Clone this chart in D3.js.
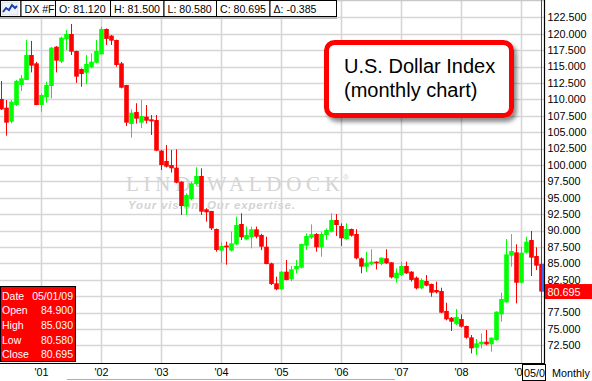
<!DOCTYPE html>
<html>
<head>
<meta charset="utf-8">
<script src="https://cdn.jsdelivr.net/npm/d3@7"></script>
<style>
  body { margin: 0; background: #fff; }
  svg { display: block; font-family: "Liberation Sans", Arial, sans-serif; }
</style>
</head>
<body>
<div id="chart"></div>
<script>
// monthly DX #F candles, May 2000 .. May 2009
var months = d3.timeMonth.range(new Date(2000, 4, 1), new Date(2009, 5, 1));

var opens = [110.05,108.72,106.59,109.13,112.18,112.94,116.75,115.48,
  109.13,110.3,112.03,118.02,115.74,119.14,119.95,117.36,114.62,114.06,114.87,115.58,
  116.85,120.72,119.7,119.04,115.48,112.18,106.23,108.06,106.44,107.35,106.95,106.84,
  102.17,100.6,99.98,99.58,97.44,93.63,94.8,97.09,98.31,93.23,92.97,90.23,
  86.93,87.7,86.93,87.89,90.99,88.65,88.96,90.18,89.32,87.53,84.99,81.95,
  81.03,83.72,82.56,84.08,84.33,87.69,88.91,89.47,87.43,89.32,89.82,91.6,
  90.69,88.7,90.23,89.47,85.76,84.49,84.84,85.25,84.9,85.76,85.15,82.71,
  83.22,84.59,83.73,82.81,81.18,82.3,81.84,80.93,80.77,77.73,76.71,75.74,
  76.5,75.44,73.71,72.14,72.65,73.05,72.65,73.3,77.22,79.05,86.16,86.67,
  82.04,86.62,88.55,86.11,84.9];
var highs = [112.79,109.89,109.89,112.94,113.7,119.04,118.9,115.7,
  110.9,112.7,118.0,118.1,119.55,120.56,121.48,117.4,114.7,116.75,117.0,119.04,
  121.07,120.8,119.8,119.1,115.7,112.2,108.47,109.4,109.9,109.13,107.6,107.6,
  102.3,103.03,102.27,102.37,97.5,95.67,97.44,99.63,99.48,93.4,93.0,90.3,
  88.2,88.3,89.82,92.11,92.62,90.6,90.6,90.6,89.5,89.06,85.1,82.96,
  83.8,85.5,84.59,85.5,88.0,89.57,90.94,89.6,89.82,90.3,92.62,92.52,
  91.09,91.09,90.3,90.2,85.9,86.77,87.13,85.3,85.9,87.13,85.2,84.23,
  85.25,85.25,83.8,83.0,82.7,83.21,81.9,82.2,81.28,78.99,76.8,78.03,
  77.22,75.5,74.07,73.46,74.32,74.83,73.7,77.7,80.52,88.7,89.46,87.89,
  87.53,89.06,89.92,87.43,85.03];
var lows = [108.37,104.46,106.34,108.98,111.27,112.94,114.1,109.1,
  108.1,109.5,110.15,114.1,115.5,117.5,116.75,112.5,111.9,112.3,114.7,115.5,
  116.85,118.3,118.28,114.97,111.67,105.93,104.15,106.3,105.6,106.3,104.56,102.1,
  99.22,99.6,98.82,97.2,92.36,92.36,94.6,96.9,92.36,91.35,90.08,86.77,
  85.0,84.8,86.8,87.8,88.55,88.5,87.28,88.8,87.0,84.85,81.69,80.9,
  80.9,82.4,82.3,83.47,84.2,87.03,88.7,86.77,86.0,88.55,89.7,89.16,
  87.64,88.6,89.06,85.6,83.47,83.7,84.7,84.08,84.7,84.9,82.7,82.05,
  83.07,83.37,82.2,81.03,81.03,81.5,79.91,80.4,77.4,76.3,74.68,75.6,
  75.2,73.5,71.27,71.02,72.04,72.5,71.53,73.2,76.1,79.0,84.48,78.89,
  81.9,86.5,83.06,83.97,80.58];
var closes = [108.47,106.44,109.64,112.79,113.2,116.75,115.13,109.13,
  110.66,112.18,117.87,115.89,119.4,119.95,117.26,113.45,113.86,115.38,115.74,117.36,
  120.72,119.2,118.94,115.23,111.77,106.44,107.96,107.05,107.45,106.74,106.64,102.17,
  99.98,99.73,99.48,97.29,93.73,95.41,97.19,98.31,92.87,92.77,90.33,87.03,
  87.64,87.43,88.04,90.84,88.96,89.32,90.18,89.06,87.53,84.89,81.84,81.03,
  83.72,82.46,84.08,84.59,87.94,89.16,89.42,87.43,89.47,90.08,91.6,90.84,
  88.81,90.23,89.21,85.76,84.49,85.1,85.25,85.0,85.86,85.0,82.86,83.57,
  84.59,83.47,82.46,81.18,82.45,81.59,80.52,80.57,77.47,76.46,76.1,76.81,
  75.34,73.66,72.04,72.8,73.05,72.65,73.66,77.62,79.56,86.36,86.87,82.04,
  86.62,88.3,85.86,84.64,80.695];

var yTicks = [72.5,75,77.5,80,82.5,85,87.5,90,92.5,95,97.5,100,102.5,105,107.5,110,112.5,115,117.5,120,122.5];
var headerFields = ['DX #F', 'O: 81.120', 'H: 81.500', 'L: 80.580', 'C: 80.695', '\u0394: -0.385'];
var infoLabels = ['Date', 'Open', 'High', 'Low', 'Close'];
var infoValues = ['05/01/09', '84.900', '85.030', '80.580', '80.695'];
var titleLines = ['U.S. Dollar Index', '(monthly chart)'];

var W = 592, H = 381;
var plotR = 544.5, plotB = 363.5;

var data = months.map((d, i) => ({date: d, o: opens[i], h: highs[i], l: lows[i], c: closes[i]}));

var svg = d3.select('#chart').append('svg')
  .attr('width', W).attr('height', H);

var defs = svg.append('defs');
defs.append('clipPath').attr('id', 'plotclip')
  .append('rect').attr('x', 0).attr('y', 0).attr('width', plotR).attr('height', plotB);
// in the axis group's own coordinates (already shifted down by plotB)
defs.append('clipPath').attr('id', 'axisclip')
  .append('rect').attr('x', 0).attr('y', 0).attr('width', 522).attr('height', 20);
var f = defs.append('filter').attr('id', 'shadow')
  .attr('x', '-10%').attr('y', '-10%').attr('width', '130%').attr('height', '140%');
f.append('feDropShadow').attr('dx', 3).attr('dy', 4).attr('stdDeviation', 2.2)
  .attr('flood-color', '#000').attr('flood-opacity', 0.45);

var x = d3.scaleBand().domain(months).range([-1, 544]).padding(0);
var y = d3.scaleLinear().domain([72.5, 122.5]).range([345.3, 17.3]);
var bw = x.bandwidth();
var cx = (d) => x(d) + bw / 2;

svg.append('rect').attr('width', W).attr('height', H).attr('fill', '#fff');

var plot = svg.append('g').attr('clip-path', 'url(#plotclip)');

// grid
plot.selectAll('line.hgrid')
  .data(yTicks)
  .enter().append('line')
  .attr('class', 'hgrid')
  .attr('x1', 0).attr('x2', plotR)
  .attr('y1', (d) => Math.round(y(d)) + 0.5)
  .attr('y2', (d) => Math.round(y(d)) + 0.5)
  .attr('stroke', '#d6d6d6').attr('stroke-width', 1.6);

var yearStarts = months.filter((d) => d.getMonth() === 0);
plot.selectAll('line.vgrid')
  .data(yearStarts)
  .enter().append('line')
  .attr('class', 'vgrid')
  .attr('x1', (d) => cx(d)).attr('x2', (d) => cx(d))
  .attr('y1', 0).attr('y2', plotB)
  .attr('stroke', '#d6d6d6').attr('stroke-width', 1.6);

// top frame line
svg.append('line')
  .attr('x1', 0).attr('x2', plotR).attr('y1', 0.5).attr('y2', 0.5)
  .attr('stroke', '#c8c8c8').attr('stroke-width', 1.5);

// watermark
plot.append('text')
  .attr('x', 126).attr('y', 191)
  .attr('font-family', '"Liberation Serif", "DejaVu Serif", serif')
  .attr('font-size', 21)
  .attr('textLength', 214).attr('lengthAdjust', 'spacing')
  .attr('fill', '#d4d4d4')
  .text('LIND-WALDOCK');
plot.append('text')
  .attr('x', 343).attr('y', 180)
  .attr('font-size', 8)
  .attr('fill', '#d4d4d4')
  .text('\u00ae');
plot.append('text')
  .attr('x', 128).attr('y', 208.5)
  .attr('font-size', 11.5).attr('font-style', 'italic').attr('font-weight', 'bold')
  .attr('textLength', 167).attr('lengthAdjust', 'spacing')
  .attr('fill', '#d4d4d4')
  .text('Your vision. Our expertise.');

// candles
var color = (d) => d.c >= d.o ? '#00ff00' : '#ff0000';

var candles = plot.selectAll('g.candle')
  .data(data)
  .enter().append('g')
  .attr('class', 'candle');

candles.append('line')
  .attr('x1', (d) => Math.floor(cx(d.date)) + 0.5)
  .attr('x2', (d) => Math.floor(cx(d.date)) + 0.5)
  .attr('y1', (d) => y(d.h))
  .attr('y2', (d) => y(d.l))
  .attr('stroke', color)
  .attr('stroke-width', 1);

candles.append('rect')
  .attr('x', (d) => x(d.date) + 0.2)
  .attr('width', bw - 0.4)
  .attr('y', (d) => y(Math.max(d.o, d.c)))
  .attr('height', (d) => Math.max(1, Math.abs(y(d.o) - y(d.c))))
  .attr('fill', color);

// crosshair on last bar
var last = data[data.length - 1];
svg.append('line')
  .attr('x1', cx(last.date) + 1).attr('x2', cx(last.date) + 1)
  .attr('y1', y(last.o)).attr('y2', y(last.c))
  .attr('stroke', '#3b6cff').attr('stroke-width', 1);
svg.append('line')
  .attr('x1', Math.floor(cx(last.date)) + 0.5).attr('x2', Math.floor(cx(last.date)) + 0.5)
  .attr('y1', 0).attr('y2', plotB)
  .attr('stroke', '#0a7a0a').attr('stroke-width', 1);

// axis frame
svg.append('line')
  .attr('x1', plotR).attr('x2', plotR).attr('y1', 0).attr('y2', plotB + 0.5)
  .attr('stroke', '#000').attr('stroke-width', 1.2);
svg.append('line')
  .attr('x1', 0).attr('x2', plotR).attr('y1', plotB).attr('y2', plotB)
  .attr('stroke', '#000').attr('stroke-width', 1.2);

// right axis (the tick hidden under the last-price tag is left out)
var shownTicks = yTicks.filter((v) => Math.abs(y(v) - y(last.c)) > 8);
var yAxis = svg.append('g')
  .attr('transform', 'translate(' + plotR + ',0)')
  .call(d3.axisRight(y)
    .tickValues(shownTicks)
    .tickFormat(d3.format('.3f'))
    .tickSize(0)
    .tickPadding(3));
yAxis.select('.domain').remove();
yAxis.selectAll('text')
  .attr('font-family', '"Liberation Sans", Arial, sans-serif')
  .attr('font-size', 10.8).attr('fill', '#000');

// last price tag
svg.append('rect')
  .attr('x', plotR + 0.5).attr('y', y(last.c) - 7.5)
  .attr('width', W - plotR).attr('height', 15)
  .attr('fill', '#ff0000');
svg.append('text')
  .attr('x', plotR + 3).attr('y', y(last.c) + 4)
  .attr('font-size', 10.8).attr('fill', '#fff')
  .text(d3.format('.3f')(last.c));

// bottom axis ('09 sits under the cursor date box)
var xAxis = svg.append('g')
  .attr('transform', 'translate(0,' + plotB + ')')
  .attr('clip-path', 'url(#axisclip)')
  .call(d3.axisBottom(x)
    .tickValues(yearStarts)
    .tickFormat((d) => "'" + d3.timeFormat('%y')(d))
    .tickSize(0)
    .tickPadding(5));
xAxis.select('.domain').remove();
xAxis.selectAll('text')
  .attr('font-family', '"Liberation Sans", Arial, sans-serif')
  .attr('font-size', 10.8).attr('fill', '#000');

// cursor date box + period
svg.append('rect')
  .attr('x', 522.5).attr('y', 364.5).attr('width', 23).attr('height', 16)
  .attr('fill', '#fff').attr('stroke', '#000').attr('stroke-width', 1);
svg.append('text')
  .attr('x', 524).attr('y', 377)
  .attr('font-size', 10.8).attr('fill', '#000')
  .text('05/0');
svg.append('text')
  .attr('x', 552).attr('y', 377)
  .attr('font-size', 10.8).attr('fill', '#000')
  .text('Monthly');

// scroll bar edge
svg.append('line')
  .attr('x1', 67).attr('x2', 395).attr('y1', 379.5).attr('y2', 379.5)
  .attr('stroke', '#9fb3c8').attr('stroke-width', 1);

// data window
svg.append('rect')
  .attr('x', 0.5).attr('y', 286.5).attr('width', 75).attr('height', 75)
  .attr('fill', '#ff0000').attr('stroke', '#000').attr('stroke-width', 1);
var info = svg.append('g').attr('font-size', 10.5).attr('fill', '#fff');
info.selectAll('text.lab')
  .data(infoLabels)
  .enter().append('text')
  .attr('class', 'lab')
  .attr('x', 2).attr('y', (d, i) => 299.5 + i * 14.7)
  .text((d) => d);
info.selectAll('text.val')
  .data(infoValues)
  .enter().append('text')
  .attr('class', 'val')
  .attr('x', 73).attr('y', (d, i) => 299.5 + i * 14.7)
  .attr('text-anchor', 'end')
  .text((d) => d);

// header bar
var hx = [0, 20.5, 55, 110, 163.5, 216, 269.5, 336];
var header = svg.append('g');
header.append('rect')
  .attr('x', 0).attr('y', 16.5).attr('width', hx[hx.length - 1] + 1).attr('height', 2.5)
  .attr('fill', '#b8b8b8');
header.selectAll('rect.cell')
  .data(d3.range(hx.length - 1))
  .enter().append('rect')
  .attr('class', 'cell')
  .attr('x', (i) => hx[i] + 0.5).attr('y', 0.5)
  .attr('width', (i) => hx[i + 1] - hx[i]).attr('height', 16)
  .attr('fill', '#fff').attr('stroke', '#000').attr('stroke-width', 1);
header.selectAll('text')
  .data(headerFields)
  .enter().append('text')
  .attr('x', (d, i) => hx[i + 1] + 4).attr('y', 12.5)
  .attr('font-size', 10.6).attr('fill', '#000')
  .text((d) => d);
// icon
var icon = header.append('g').attr('transform', 'translate(2,2)');
icon.append('rect').attr('width', 16).attr('height', 13).attr('fill', '#eef2f8')
  .attr('stroke', '#c8c8c8').attr('stroke-width', 0.5);
icon.append('path')
  .attr('d', 'M1,10 L4,6 L7,8 L10,3 L13,6 L15,4')
  .attr('fill', 'none').attr('stroke', '#1a3fa8').attr('stroke-width', 2);

// title callout
svg.append('rect')
  .attr('x', 326.5).attr('y', 42.5).attr('width', 185).attr('height', 73)
  .attr('rx', 8).attr('ry', 8)
  .attr('fill', '#fff').attr('stroke', '#ff0000').attr('stroke-width', 5)
  .attr('filter', 'url(#shadow)');
svg.selectAll('text.title')
  .data(titleLines)
  .enter().append('text')
  .attr('class', 'title')
  .attr('x', 344).attr('y', (d, i) => 73 + i * 24)
  .attr('font-size', 20).attr('fill', '#000')
  .text((d) => d);
</script>
</body>
</html>
